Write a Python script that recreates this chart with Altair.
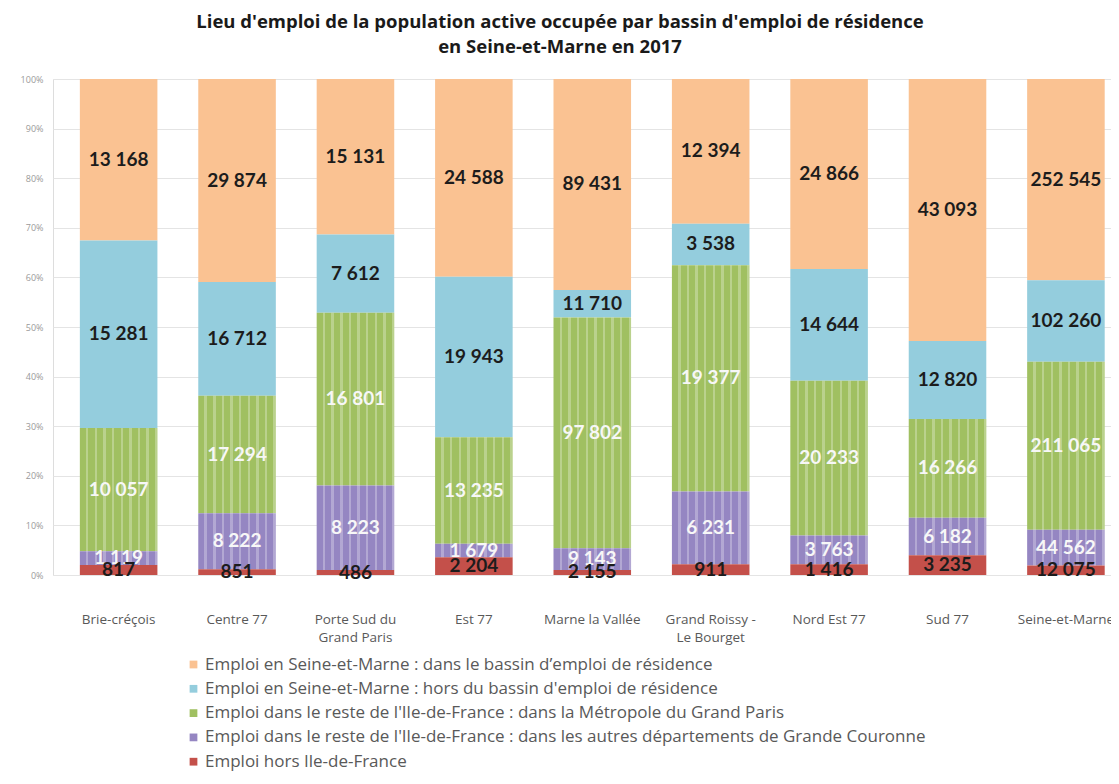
import altair as alt
import pandas as pd

categories = ["Brie-créçois", "Centre 77", "Porte Sud du Grand Paris", "Est 77",
              "Marne la Vallée", "Grand Roissy - Le Bourget", "Nord Est 77",
              "Sud 77", "Seine-et-Marne"]

series = [
    "Emploi en Seine-et-Marne : dans le bassin d’emploi de résidence",
    "Emploi en Seine-et-Marne : hors du bassin d'emploi de résidence",
    "Emploi dans le reste de l'Ile-de-France : dans la Métropole du Grand Paris",
    "Emploi dans le reste de l'Ile-de-France : dans les autres départements de Grande Couronne",
    "Emploi hors Ile-de-France",
]
colors = ["#FAC292", "#94CDDD", "#A0C061", "#9586C2", "#C4504A"]

v_bassin = [13168, 29874, 15131, 24588, 89431, 12394, 24866, 43093, 252545]
v_hors_bassin = [15281, 16712, 7612, 19943, 11710, 3538, 14644, 12820, 102260]
v_metropole = [10057, 17294, 16801, 13235, 97802, 19377, 20233, 16266, 211065]
v_couronne = [1119, 8222, 8223, 1679, 9143, 6231, 3763, 6182, 44562]
v_hors_idf = [817, 851, 486, 2204, 2155, 911, 1416, 3235, 12075]

y_ticks = [0, 0.1, 0.2, 0.3, 0.4, 0.5, 0.6, 0.7, 0.8, 0.9, 1.0]

rows = []
all_vals = [v_bassin, v_hors_bassin, v_metropole, v_couronne, v_hors_idf]
for si, (s, vals) in enumerate(zip(series, all_vals)):
    for c, v in zip(categories, vals):
        rows.append({"cat": c, "serie": s, "value": v, "rank": 4 - si})
df = pd.DataFrame(rows)

FONT = "Lato"
TFONT = "Open Sans"

base = alt.Chart(df).transform_stack(
    stack="value", groupby=["cat"],
    sort=[alt.SortField("rank", order="ascending")],
    offset="normalize", as_=["y0", "y1"],
).transform_calculate(
    mid="(datum.y0 + datum.y1) / 2",
    label="replace(format(datum.value, ','), ',', ' ')",
)

x_enc = alt.X(
    "cat:N", sort=categories,
    scale=alt.Scale(paddingInner=0.345, paddingOuter=0.14, align=0.81),
    axis=alt.Axis(
        title=None, labelAngle=0, domain=False, ticks=False,
        labelFont=TFONT, labelFontSize=13.5, labelColor="#595959",
        labelPadding=37, labelLineHeight=18, labelLimit=200,
        labelExpr="datum.label == 'Porte Sud du Grand Paris' ? ['Porte Sud du', 'Grand Paris'] : "
                  "datum.label == 'Grand Roissy - Le Bourget' ? ['Grand Roissy -', 'Le Bourget'] : datum.label",
    ),
)

y_scale = alt.Scale(domain=[0, 1], nice=False)

bars = base.mark_bar().encode(
    x=x_enc,
    y=alt.Y("y0:Q", scale=y_scale, axis=alt.Axis(
        title=None, format="%", values=y_ticks, domain=False, ticks=False,
        labelFont=TFONT, labelFontSize=9, labelColor="#9a9a9a", labelPadding=10,
        gridColor="#e4e4e4", gridWidth=1,
    )),
    y2="y1:Q",
    color=alt.Color("serie:N", scale=alt.Scale(domain=series, range=colors),
                    legend=alt.Legend(
                        title=None, orient="none", legendX=132, legendY=577,
                        direction="vertical", symbolType="square", symbolSize=60,
                        symbolStrokeWidth=0, labelFont=TFONT, labelFontSize=17,
                        labelColor="#595959", labelLimit=1000, rowPadding=6.3,
                        symbolOffset=0, labelOffset=3,
                    )),
)

stops = []
n = 9
for i in range(n):
    a = i / n
    b = (i + 0.72) / n
    c = (i + 1) / n
    stops += [
        alt.GradientStop(offset=a, color="rgba(255,255,255,0)"),
        alt.GradientStop(offset=b, color="rgba(255,255,255,0)"),
        alt.GradientStop(offset=b, color="rgba(255,255,255,0.28)"),
        alt.GradientStop(offset=c, color="rgba(255,255,255,0.28)"),
    ]
stripe_fill = alt.LinearGradient(gradient="linear", stops=stops, x1=0, x2=1, y1=0, y2=0)

stripes = base.transform_filter(
    "datum.rank == 1 || datum.rank == 2"
).mark_bar(fill=stripe_fill).encode(
    x=x_enc,
    y=alt.Y("y0:Q", scale=y_scale),
    y2="y1:Q",
)

labels = base.mark_text(font=FONT, fontWeight="bold", fontSize=19, baseline="middle").encode(
    x=x_enc,
    y=alt.Y("mid:Q", scale=y_scale),
    text="label:N",
    color=alt.condition("datum.rank == 1 || datum.rank == 2",
                        alt.value("#f7f7f7"), alt.value("#1c1c1c")),
)

chart = alt.layer(bars, stripes, labels).properties(
    width=1058, height=496,
    title=alt.Title(
        ["Lieu d'emploi de la population active occupée par bassin d'emploi de résidence",
         "en Seine-et-Marne en 2017"],
        font=TFONT, fontSize=18.5, fontWeight="bold", color="#1a1a1a",
        dx=-22, offset=19, lineHeight=25, anchor="middle",
    ),
    autosize=alt.AutoSizeParams(type="none"),
    padding={"left": 45, "top": 71, "right": 0, "bottom": 200},
).configure_view(stroke=None).configure(background="white")

chart.save("out.html", embed_options={"renderer": "svg", "actions": False})
